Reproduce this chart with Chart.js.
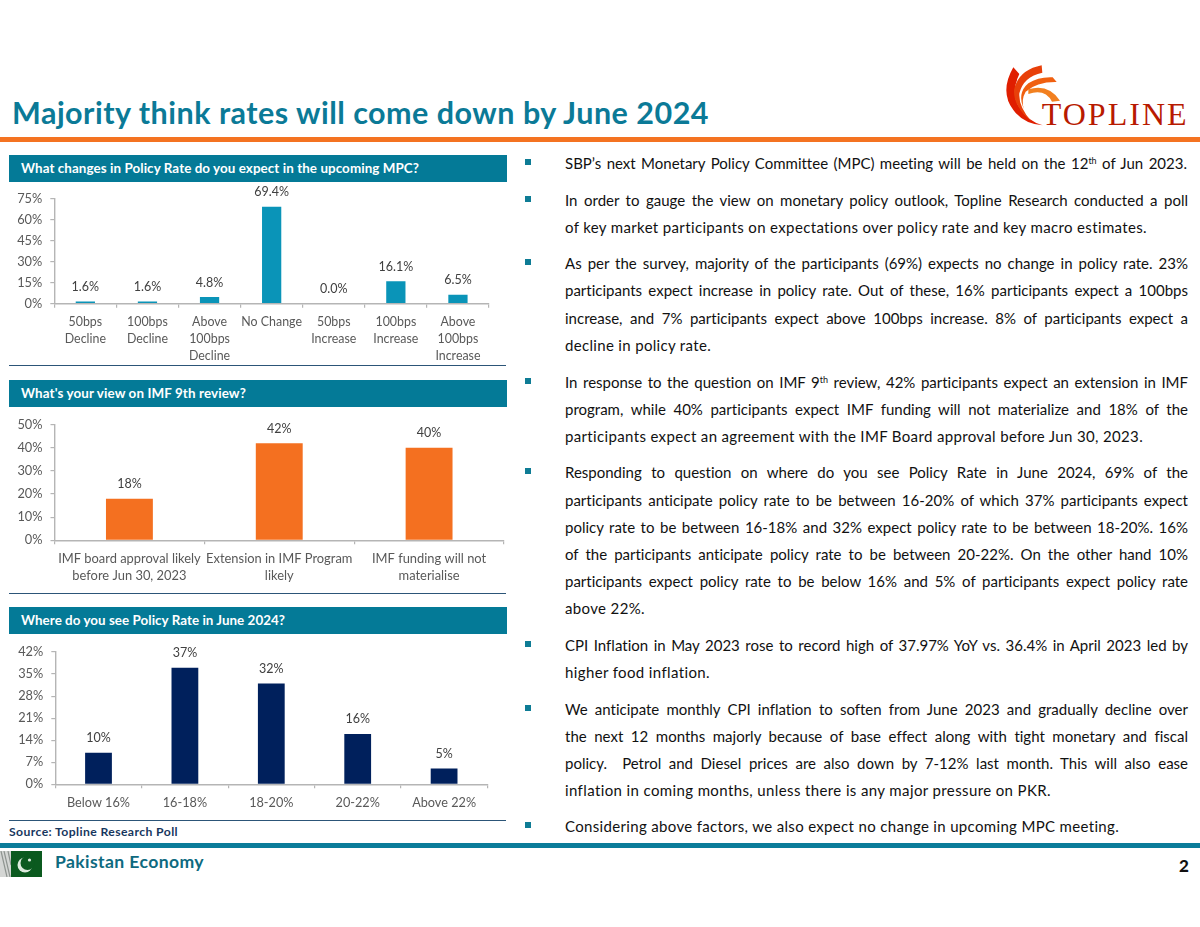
<!DOCTYPE html>
<html><head><meta charset="utf-8">
<script src="https://cdn.jsdelivr.net/npm/chart.js@4/dist/chart.umd.min.js"></script>
<style>
html,body{margin:0;padding:0;background:#fff;width:1200px;height:927px;overflow:hidden;font-family:Lato,sans-serif;font-variant-ligatures:none}
#page{position:relative;width:1200px;height:927px;overflow:hidden}
.abs{position:absolute}
.t{position:absolute;white-space:pre;line-height:20px;height:20px}
.body{font-size:15px;color:#111;left:565px}
sup{font-size:9px;line-height:0;vertical-align:5px}
.hd{position:absolute;left:9px;width:498px;height:27px;background:#047A97}
.hdt{font-weight:700;font-size:13.4px;color:#fff;left:21px}
.dv{position:absolute;left:9px;width:497px;height:1px;background:#2C5578}
.bl{position:absolute;left:525px;width:6px;height:6px;background:#0E7C95}
canvas{position:absolute;left:0}
</style></head><body><div id="page">
<div class="t" id="title" style="left:12px;top:96px;height:32px;line-height:32px;font-size:30.5px;font-weight:700;color:#0B7A97" data-r="709" data-l="1">Majority think rates will come down by June 2024</div>
<div class="abs" style="left:0;top:137px;width:1200px;height:5px;background:#F47321"></div>

<svg class="abs" style="left:960px;top:50px" width="240" height="88" viewBox="0 0 720 264">
<path d="M160 52 L178 72 Q150 130 180 175 Q205 215 248 226 Q190 222 160 180 Q118 125 160 52Z" fill="#E01E00"/>
<path d="M245 46 L247 68 Q190 80 178 130 Q175 170 215 215 Q160 170 162 120 Q175 60 245 46Z" fill="#E8400A"/>
<path d="M278 82 L290 96 Q230 95 197 125 Q182 150 192 178 Q170 130 205 100 Q235 80 278 82Z" fill="#F06010"/>
<path d="M205 118 Q265 100 300 152 L276 155 Q255 115 205 132Z" fill="#F28020"/>
<text x="245" y="225" font-family="Liberation Serif" font-size="96" fill="#B81A00" textLength="435" lengthAdjust="spacing">TOPLINE</text>
</svg>

<div class="hd" style="top:155px"></div>
<div class="t hdt" style="top:158px" data-r="419" data-l="1">What changes in Policy Rate do you expect in the upcoming MPC?</div>
<canvas id="c1" width="520" height="183" style="top:182px"></canvas>
<div class="dv" style="top:365px"></div>

<div class="hd" style="top:380px"></div>
<div class="t hdt" style="top:383px" data-r="246" data-l="1">What's your view on IMF 9th review?</div>
<canvas id="c2" width="520" height="186" style="top:407px"></canvas>
<div class="dv" style="top:593px"></div>

<div class="hd" style="top:607px"></div>
<div class="t hdt" style="top:610px" data-r="285" data-l="1">Where do you see Policy Rate in June 2024?</div>
<canvas id="c3" width="520" height="186" style="top:634px"></canvas>
<div class="dv" style="top:820px"></div>

<div class="t" style="left:9px;top:822px;font-size:12.2px;font-weight:700;color:#17375E" data-r="178" data-l="1">Source: Topline Research Poll</div>

<div id="bodytext"></div>

<div class="abs" style="left:0;top:843px;width:1200px;height:5px;background:#0B7C9A"></div>
<svg class="abs" style="left:0;top:851px" width="42" height="26" viewBox="0 0 42 26">
<rect width="11" height="26" fill="#D4D6D4"/><path d="M1 0L7 26M4 0L10 26M8 0L11 14" stroke="#8E9490" stroke-width="1.2" fill="none"/>
<rect x="11" width="31" height="26" fill="#0B5A1F"/>
<circle cx="25" cy="14" r="7.5" fill="#DDEBDD"/><circle cx="27.5" cy="12" r="7" fill="#0B5A1F"/>
<circle cx="29.5" cy="9" r="1.6" fill="#DDEBDD"/>
</svg>
<div class="t" style="left:55px;top:852px;font-size:17.6px;font-weight:700;color:#0E6A80" data-r="204" data-l="1">Pakistan Economy</div>
<div class="t" style="left:1179px;top:856px;font-size:17px;font-weight:900;color:#111">2</div>
</div>
<script>
const policyCategories=[["50bps","Decline"],["100bps","Decline"],["Above","100bps","Decline"],"No Change",["50bps","Increase"],["100bps","Increase"],["Above","100bps","Increase"]];
const policyValues=[1.6,1.6,4.8,69.4,0.0,16.1,6.5];
const imfCategories=[["IMF board approval likely","before Jun 30, 2023"],["Extension in IMF Program","likely"],["IMF funding will not","materialise"]];
const imfValues=[18,42,40];
const rateCategories=["Below 16%","16-18%","18-20%","20-22%","Above 22%"];
const rateValues=[10,37,32,16,5];

const AXIS='#B5B5B5',TXT='#595959',FONT='Lato';
const labelPlugin={id:'vals',afterDatasetsDraw(ch,a,o){
  const c=ch.ctx,m=ch.getDatasetMeta(0);
  c.save();c.font='12.5px '+FONT;c.fillStyle='#404040';c.textAlign='center';c.textBaseline='middle';
  m.data.forEach((b,i)=>c.fillText(ch.data.datasets[0].data[i].toFixed(o.dec)+'%',b.x,b.y-14.5));
  c.restore();
}};
function mk(id,cats,vals,color,max,step,dec,g){
  new Chart(document.getElementById(id),{type:'bar',plugins:[labelPlugin],
   data:{labels:cats,datasets:[{data:vals,backgroundColor:color,barPercentage:g.bar,categoryPercentage:1}]},
   options:{responsive:false,animation:false,
    layout:{padding:{left:0,right:g.right,top:g.top,bottom:0}},
    plugins:{legend:{display:false},tooltip:{enabled:false},title:{display:false},vals:{dec}},
    scales:{
     x:{grid:{offset:true,drawOnChartArea:false,tickLength:4,color:AXIS,lineWidth:1.2},border:{color:AXIS,width:1.4},
        ticks:{autoSkip:false,maxRotation:0,minRotation:0,padding:6,color:TXT,font:{family:FONT,size:g.fs,lineHeight:'17px'}},
        afterFit(s){s.height=g.xh}},
     y:{min:0,max:max,grid:{drawOnChartArea:false,tickLength:4,color:AXIS,lineWidth:1.2},border:{color:AXIS,width:1.4},
        ticks:{stepSize:step,padding:8,color:TXT,font:{family:FONT,size:12.8},callback:v=>v+'%'},
        afterFit(s){s.width=g.yw}}
    }}});
}
mk('c1',policyCategories,policyValues,'#0A94B8',75,15,1,{right:31,top:17,xh:61.3,yw:54.3,bar:0.31,fs:12.4});
mk('c2',imfCategories,imfValues,'#F47020',50,10,0,{right:16,top:17.7,xh:52.7,yw:54.5,bar:0.313,fs:12.9});
mk('c3',rateCategories,rateValues,'#00205C',42,7,0,{right:32.7,top:18,xh:35.7,yw:55.3,bar:0.31,fs:12.7});

const bodyLines=[
[163,"SBP’s next Monetary Policy Committee (MPC) meeting will be held on the 12<sup>th</sup> of Jun 2023.",1187,1],
[200,"In order to gauge the view on monetary policy outlook, Topline Research conducted a poll",1188,1],
[227,"of key market participants on expectations over policy rate and key macro estimates.",1147,0],
[263,"As per the survey, majority of the participants (69%) expects no change in policy rate. 23%",1188,1],
[290,"participants expect increase in policy rate. Out of these, 16% participants expect a 100bps",1188,0],
[318,"increase, and 7% participants expect above 100bps increase. 8% of participants expect a",1188,0],
[345,"decline in policy rate.",711,0],
[382,"In response to the question on IMF 9<sup>th</sup> review, 42% participants expect an extension in IMF",1188,1],
[409,"program, while 40% participants expect IMF funding will not materialize and 18% of the",1188,0],
[436,"participants expect an agreement with the IMF Board approval before Jun 30, 2023.",1143,0],
[472,"Responding to question on where do you see Policy Rate in June 2024, 69% of the",1188,1],
[500,"participants anticipate policy rate to be between 16-20% of which 37% participants expect",1188,0],
[527,"policy rate to be between 16-18% and 32% expect policy rate to be between 18-20%. 16%",1188,0],
[554,"of the participants anticipate policy rate to be between 20-22%. On the other hand 10%",1188,0],
[581,"participants expect policy rate to be below 16% and 5% of participants expect policy rate",1188,0],
[608,"above 22%.",645,0],
[645,"CPI Inflation in May 2023 rose to record high of 37.97% YoY vs. 36.4% in April 2023 led by",1188,1],
[672,"higher food inflation.",710,0],
[709,"We anticipate monthly CPI inflation to soften from June 2023 and gradually decline over",1188,1],
[736,"the next 12 months majorly because of base effect along with tight monetary and fiscal",1188,0],
[763,"policy.  Petrol and Diesel prices are also down by 7-12% last month. This will also ease",1188,0],
[790,"inflation in coming months, unless there is any major pressure on PKR.",1051,0],
[826,"Considering above factors, we also expect no change in upcoming MPC meeting.",1119,1]
];
const host=document.getElementById('bodytext');
bodyLines.forEach(([y,h,r,b])=>{
  const d=document.createElement('div');d.className='t body';d.style.top=(y-10)+'px';d.innerHTML=h;d.dataset.r=r;
  if(r<1180)d.dataset.l='1';
  host.appendChild(d);
  if(b){const s=document.createElement('div');s.className='bl';s.style.top=(y-4)+'px';host.appendChild(s);}
});
function fit(){
  document.querySelectorAll('[data-r]').forEach(e=>{
    const L=parseFloat(getComputedStyle(e).left),w=e.getBoundingClientRect().width,txt=e.textContent;
    const d=+e.dataset.r-L-w,n=(txt.match(/ /g)||[]).length;
    if(e.dataset.l||d<0||!n)e.style.letterSpacing=(d/txt.length).toFixed(3)+'px';
    else e.style.wordSpacing=(d/n).toFixed(3)+'px';
  });
}
fit();
</script></body></html>
